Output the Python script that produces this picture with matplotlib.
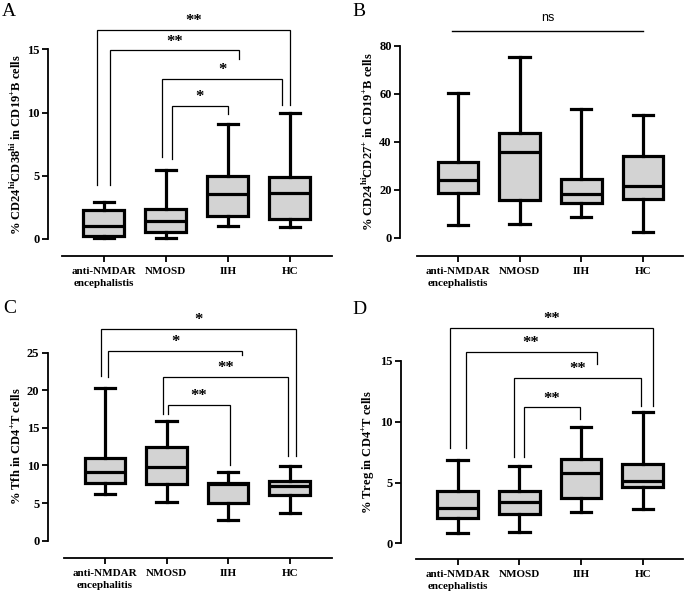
import matplotlib
matplotlib.use('Agg')
import matplotlib.pyplot as plt

plt.rcParams['font.family'] = ['Liberation Serif', 'DejaVu Serif']
plt.rcParams['mathtext.fontset'] = 'custom'
plt.rcParams['mathtext.rm'] = 'Liberation Serif'
plt.rcParams['mathtext.bf'] = 'Liberation Serif:bold'

# groups
groups = ['anti-NMDAR\nencephalistis', 'NMOSD', 'IIH', 'HC']
groups_c = ['anti-NMDAR\nencephalitis', 'NMOSD', 'IIH', 'HC']

# A: CD24hiCD38hi  (whisker low, q1, median, q3, whisker high)
a_lo = [0.08, 0.08, 1.03, 0.98]
a_q1 = [0.26, 0.55, 1.79, 1.58]
a_med = [1.03, 1.45, 3.54, 3.64]
a_q3 = [2.27, 2.35, 4.99, 4.88]
a_hi = [2.90, 5.46, 9.08, 9.95]

# B: CD24hiCD27+
b_lo = [5.4, 6.0, 8.9, 2.6]
b_q1 = [18.9, 15.8, 14.4, 16.1]
b_med = [24.1, 35.8, 18.3, 21.6]
b_q3 = [31.8, 43.5, 24.7, 34.0]
b_hi = [60.5, 75.2, 53.5, 51.0]

# C: Tfh
c_lo = [6.2, 5.14, 2.75, 3.68]
c_q1 = [7.71, 7.49, 5.05, 6.03]
c_med = [9.09, 9.84, 7.5, 7.31]
c_q3 = [11.0, 12.5, 7.7, 7.93]
c_hi = [20.3, 15.96, 9.18, 9.93]

# D: Treg
d_lo = [0.85, 0.9, 2.55, 2.82]
d_q1 = [2.06, 2.41, 3.7, 4.63]
d_med = [2.93, 3.37, 5.76, 5.13]
d_q3 = [4.28, 4.28, 6.94, 6.55]
d_hi = [6.83, 6.33, 9.6, 10.8]

# significance labels (anti-HC, anti-IIH, NMOSD-HC, NMOSD-IIH)
sig_a = ['**', '**', '*', '*']
sig_c = ['*', '*', '**', '**']
sig_d = ['**', '**', '**', '**']

# bracket geometry: x left, x right, top, left leg end, right leg end
br_a = [(-0.11, 3.0, 16.57, 4.3, 10.6), (0.10, 2.18, 14.93, 4.3, 14.27),
        (0.94, 2.88, 12.64, 6.49, 10.63), (1.10, 2.0, 10.5, 6.3, 9.92)]
br_c = [(-0.065, 3.1, 28.1, 21.9, 11.3), (0.05, 2.23, 25.2, 21.8, 24.7),
        (0.94, 2.98, 21.8, 16.8, 11.26), (1.02, 2.03, 18.04, 16.8, 10.06)]
br_d = [(-0.12, 3.16, 17.68, 7.8, 11.3), (0.13, 2.25, 15.76, 7.8, 14.75),
        (0.92, 2.97, 13.57, 7.12, 11.3), (1.07, 1.98, 11.18, 7.12, 10.22)]

W, H = 685, 594
fig = plt.figure(figsize=(W / 100, H / 100), dpi=100)


def px_axes(left, top, right, bottom):
    return fig.add_axes([left / W, 1 - bottom / H, (right - left) / W, (bottom - top) / H])


def draw_panel(ax, lo, q1, med, q3, hi, labels, ylim, yticks, xlim, ylabel):
    stats = []
    for i in range(len(labels)):
        stats.append(dict(whislo=lo[i], q1=q1[i], med=med[i], q3=q3[i], whishi=hi[i], fliers=[]))
    ax.bxp(stats, positions=range(len(labels)), widths=0.66, patch_artist=True,
           showfliers=False,
           boxprops=dict(facecolor='#d3d3d3', edgecolor='black', linewidth=2.3),
           whiskerprops=dict(color='black', linewidth=2.3),
           capprops=dict(color='black', linewidth=2.3),
           medianprops=dict(color='black', linewidth=2.3))
    ax.set_xlim(*xlim)
    ax.set_ylim(*ylim)
    ax.set_yticks(yticks)
    ax.set_xticks(range(len(labels)))
    ax.set_xticklabels(labels, fontweight='bold', fontsize=8, linespacing=1.35)
    for t in ax.get_yticklabels():
        t.set_fontweight('bold')
        t.set_fontsize(9)
    for s in ['top', 'right']:
        ax.spines[s].set_visible(False)
    ax.spines['left'].set_bounds(yticks[0], yticks[-1])
    ax.spines['bottom'].set_bounds(-0.67, xlim[1])
    ax.spines['left'].set_linewidth(1.3)
    ax.spines['bottom'].set_linewidth(1.3)
    ax.tick_params(width=1.3, length=4, pad=2)
    ax.tick_params(axis='x', pad=4)
    ax.set_ylabel(ylabel, fontweight='bold', fontsize=9)
    mid = (yticks[0] + yticks[-1]) / 2
    ax.yaxis.set_label_coords(-0.085, (mid - ylim[0]) / (ylim[1] - ylim[0]))
    ax.patch.set_visible(False)


def draw_brackets(ax, brackets, sigs):
    for (x0, x1, top, y0, y1), s in zip(brackets, sigs):
        ax.plot([x0, x0, x1, x1], [y0, top, top, y1], color='black', lw=0.9,
                clip_on=False, solid_joinstyle='miter')
        ax.annotate(s, xy=((x0 + x1) / 2, top), xytext=(0, 3.5), textcoords='offset points',
                    ha='center', va='baseline', fontsize=12, fontweight='bold',
                    annotation_clip=False)


# A
axA = px_axes(48, 11.6, 332, 256.3)
draw_panel(axA, a_lo, a_q1, a_med, a_q3, a_hi, groups, (-1.37, 18), [0, 5, 10, 15],
           (-0.9, 3.68), r'% CD24$^{\mathbf{hi}}$CD38$^{\mathbf{hi}}$ in CD19$^{\mathbf{+}}$B cells')
draw_brackets(axA, br_a, sig_a)

# B
axB = px_axes(400, 16.8, 683, 256)
draw_panel(axB, b_lo, b_q1, b_med, b_q3, b_hi, groups, (-7.5, 92), [0, 20, 40, 60, 80],
           (-0.94, 3.65), r'% CD24$^{\mathbf{hi}}$CD27$^{\mathbf{+}}$ in CD19$^{\mathbf{+}}$B cells')
axB.plot([-0.1, 3.0], [86.1, 86.1], color='black', lw=1.0, clip_on=False)
axB.annotate('ns', xy=(1.45, 86.1), xytext=(0, 5), textcoords='offset points',
             ha='center', va='bottom', fontsize=9, family='Liberation Sans', annotation_clip=False)

# C
axC = px_axes(47.7, 315, 331.6, 558.3)
draw_panel(axC, c_lo, c_q1, c_med, c_q3, c_hi, groups_c, (-2.34, 30), [0, 5, 10, 15, 20, 25],
           (-0.93, 3.68), r'% Tfh in CD4$^{\mathbf{+}}$T cells')
draw_brackets(axC, br_c, sig_c)

# D
axD = px_axes(400.8, 306.2, 683, 559)
draw_panel(axD, d_lo, d_q1, d_med, d_q3, d_hi, groups, (-1.29, 19.5), [0, 5, 10, 15],
           (-0.92, 3.65), r'% Treg in CD4$^{\mathbf{+}}$T cells')
draw_brackets(axD, br_d, sig_d)

# panel letters
for letter, x, y in [('A', 2, 3), ('B', 352, 3), ('C', 3, 300), ('D', 352, 301)]:
    fig.text(x / W, 1 - y / H, letter, fontsize=14, ha='left', va='top')

fig.savefig('out.png', dpi=100)
